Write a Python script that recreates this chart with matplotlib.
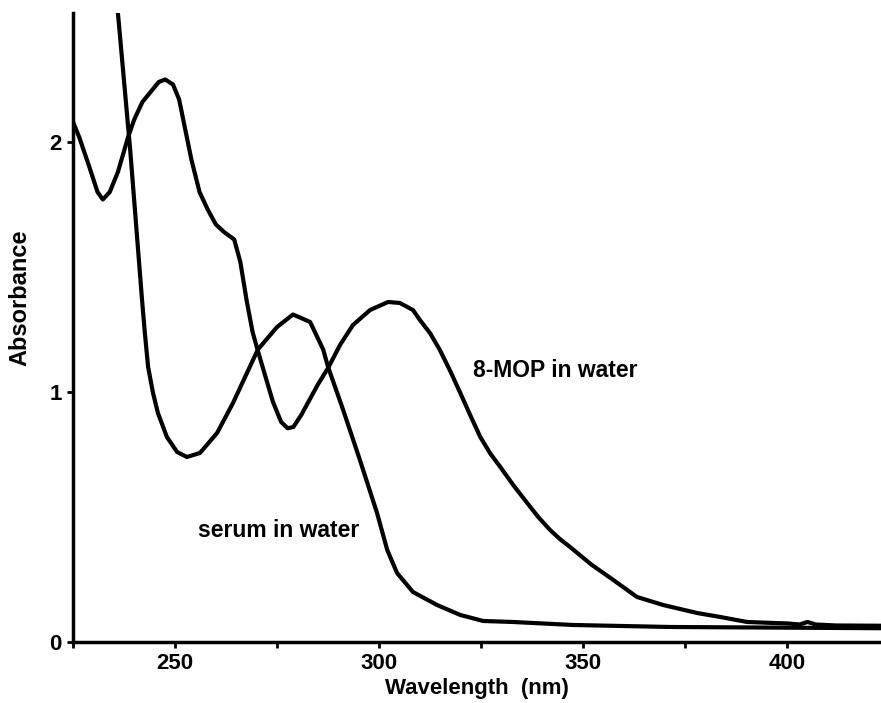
import matplotlib
matplotlib.use("Agg")
from matplotlib import pyplot as plt

# Absorption spectra, wavelength in nm vs absorbance
mop_nm = [225, 226.5, 229, 231, 232.3, 234, 236, 238.5, 240, 242, 244, 246, 247.6,
          249.5, 251, 252.5, 254, 256, 258, 260, 262, 264.5, 266, 267.5, 269, 270.2,
          272, 274, 276, 277.6, 279, 281, 283, 285, 287.5, 290.5, 293.6, 297.8, 302.2,
          305.1, 308.3, 310.0, 312.5, 314.9, 317.4, 319.9, 322.4, 324.8, 327.2, 329.7,
          333.0, 336.3, 339.0, 341.9, 344.3, 346.8, 352.0, 357.4, 363.2, 369.6, 377.9,
          383.6, 390.2, 395, 400.2, 403, 405, 407, 412, 423]
mop_abs = [2.08, 2.02, 1.90, 1.80, 1.77, 1.80, 1.88, 2.02, 2.09, 2.16, 2.20, 2.24, 2.25,
           2.23, 2.17, 2.05, 1.93, 1.80, 1.73, 1.67, 1.64, 1.61, 1.52, 1.37, 1.24, 1.17,
           1.07, 0.96, 0.88, 0.855, 0.86, 0.91, 0.97, 1.03, 1.096, 1.19, 1.268, 1.328, 1.36,
           1.356, 1.328, 1.288, 1.235, 1.168, 1.085, 0.996, 0.905, 0.82, 0.755, 0.70,
           0.625, 0.556, 0.50, 0.448, 0.412, 0.38, 0.31, 0.248, 0.18, 0.148, 0.116,
           0.10, 0.08, 0.077, 0.074, 0.07, 0.08, 0.07, 0.066, 0.065]

serum_nm = [235.5, 236.0, 239.0, 241.9, 242.6, 243.4, 244.6, 245.8, 248.0, 250.5, 252.9,
            256.1, 260.3, 264.2, 270.3, 275, 278.9, 283.1, 286.3, 287.5, 291.2, 295.3,
            299.5, 302.0, 304.4, 308.3, 314.2, 319.9, 325.5, 332.8, 347.5, 371.3, 423]
serum_abs = [2.61, 2.516, 1.97, 1.37, 1.236, 1.10, 0.996, 0.916, 0.82, 0.76, 0.74,
             0.756, 0.836, 0.956, 1.17, 1.26, 1.31, 1.28, 1.17, 1.10, 0.928, 0.728,
             0.516, 0.368, 0.276, 0.20, 0.148, 0.108, 0.084, 0.08, 0.068, 0.06, 0.055]

x_ticks = [250, 300, 350, 400]
x_minor = [225, 275, 325, 375]
y_ticks = [0, 1, 2]

plt.rcParams['font.family'] = ['Liberation Sans', 'DejaVu Sans']

fig = plt.figure(figsize=(8.81, 7.03), dpi=100)
ax = fig.add_axes([0.0829, 0.0868, 0.9171, 0.8947])

ax.plot(mop_nm, mop_abs, color='black', lw=3.0, solid_joinstyle='round')
ax.plot(serum_nm, serum_abs, color='black', lw=3.0, solid_joinstyle='round')

ax.set_xlim(225, 423)
ax.set_ylim(0, 2.516)

ax.set_xticks(x_ticks)
ax.set_xticks(x_minor, minor=True)
ax.set_yticks(y_ticks)

for s in ['top', 'right']:
    ax.spines[s].set_visible(False)
for s in ['left', 'bottom']:
    ax.spines[s].set_linewidth(2.5)

ax.tick_params(axis='both', which='both', direction='out', width=2, length=4,
               labelsize=16, pad=4)
for lab in ax.get_xticklabels() + ax.get_yticklabels():
    lab.set_fontweight('bold')

ax.set_xlabel('Wavelength  (nm)', fontsize=16, fontweight='bold', labelpad=3)
ax.set_ylabel('Absorbance', fontsize=17, fontweight='bold')
ax.yaxis.set_label_coords(-0.066, 0.548)
ax.yaxis.label.set_verticalalignment('center')

ax.text(323.0, 1.084, '8-MOP in water', fontsize=16.5, fontweight='bold',
        ha='left', va='center')
ax.text(255.6, 0.444, 'serum in water', fontsize=16.5, fontweight='bold',
        ha='left', va='center')

plt.savefig('out.png', dpi=100)
